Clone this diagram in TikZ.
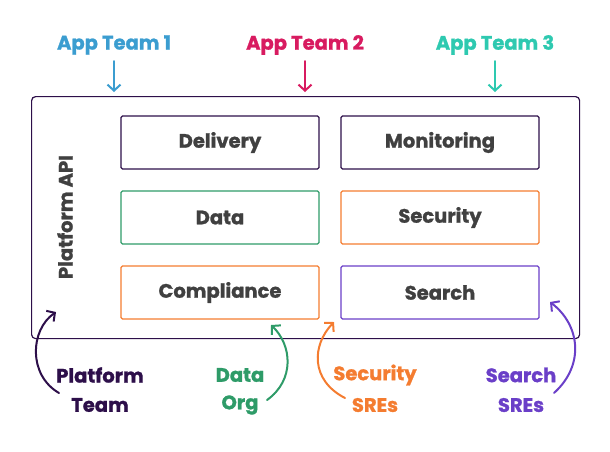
\documentclass[tikz,border=0pt]{standalone}
\usepackage{fontspec}
\setmainfont{Poppins}[BoldFeatures={FakeBold=1.2}]
\usetikzlibrary{arrows.meta}
\definecolor{dpurple}{HTML}{2D0F4A}
\definecolor{txtgray}{HTML}{404040}
\definecolor{cgreen}{HTML}{2E9B68}
\definecolor{corange}{HTML}{F47C30}
\definecolor{cpurple}{HTML}{6A3FC8}
\definecolor{cblue}{HTML}{3B9DD0}
\definecolor{ccrimson}{HTML}{D81B60}
\definecolor{cteal}{HTML}{2EC9B0}
\begin{document}
\begin{tikzpicture}[x=1pt,y=-1pt,
  svc/.style={draw, line width=1.2pt, rounded corners=1.5pt, minimum width=198pt, minimum height=53pt, font=\bfseries\fontsize{19.5}{22}\selectfont, text=txtgray},
  lbl/.style={font=\bfseries\fontsize{19.5}{22}\selectfont},
  arr/.style={line width=2pt, -{Straight Barb[length=6pt,width=13pt]}, line cap=round}
]
\useasboundingbox (0,0) rectangle (610,451);
\node[draw=dpurple, line width=1.2pt, rounded corners=4pt, minimum width=548pt, minimum height=242pt, anchor=north west] (outer) at (31,96) {};
\node[rotate=90, lbl, text=txtgray] (api) at (65,217) {Platform API};
\node[svc, draw=dpurple] (delivery) at (220,142.5) {Delivery};
\node[svc, draw=dpurple] (monitoring) at (440,142.5) {Monitoring};
\node[svc, draw=cgreen] (data) at (220,217.5) {Data};
\node[svc, draw=corange] (security) at (440,217.5) {Security};
\node[svc, draw=corange] (compliance) at (220,292.5) {Compliance};
\node[svc, draw=cpurple] (search) at (440,292.5) {Search};
% app teams
\node[lbl, text=cblue] (t1) at (114,45) {App Team 1};
\node[lbl, text=ccrimson] (t2) at (305,45) {App Team 2};
\node[lbl, text=cteal] (t3) at (495,45) {App Team 3};
\coordinate (e1) at (114,92);
\coordinate (e2) at (305,92);
\coordinate (e3) at (495,92);
\draw[arr, cblue] (t1.south |- 0,61) -- (e1);
\draw[arr, ccrimson] (t2.south |- 0,61) -- (e2);
\draw[arr, cteal] (t3.south |- 0,61) -- (e3);
% bottom teams
\node[lbl, text=dpurple] (pt1) at (100,375) {Platform};
\node[lbl, text=dpurple] (pt2) at (100,405) {Team};
\node[lbl, text=cgreen] (do1) at (240,375) {Data};
\node[lbl, text=cgreen] (do2) at (240,405) {Org};
\node[lbl, text=corange] (ss1) at (375,375) {Security};
\node[lbl, text=corange] (ss2) at (375,405) {SREs};
\node[lbl, text=cpurple] (sr1) at (521,375) {Search};
\node[lbl, text=cpurple] (sr2) at (521,405) {SREs};
\coordinate (pa) at (59,393);
\coordinate (pb) at (56,312);
\coordinate (da) at (267,400);
\coordinate (db) at (271,325);
\coordinate (sa) at (345,398);
\coordinate (sb) at (334,322);
\coordinate (ra) at (554,393);
\coordinate (rb) at (550,302);
\draw[arr, dpurple] (pa) .. controls (28,375) and (30,330) .. (pb);
\draw[arr, cgreen] (da) .. controls (295,380) and (292,345) .. (db);
\draw[arr, corange] (sa) .. controls (310,380) and (312,345) .. (sb);
\draw[arr, cpurple] (ra) .. controls (585,365) and (580,325) .. (rb);
\end{tikzpicture}
\end{document}
